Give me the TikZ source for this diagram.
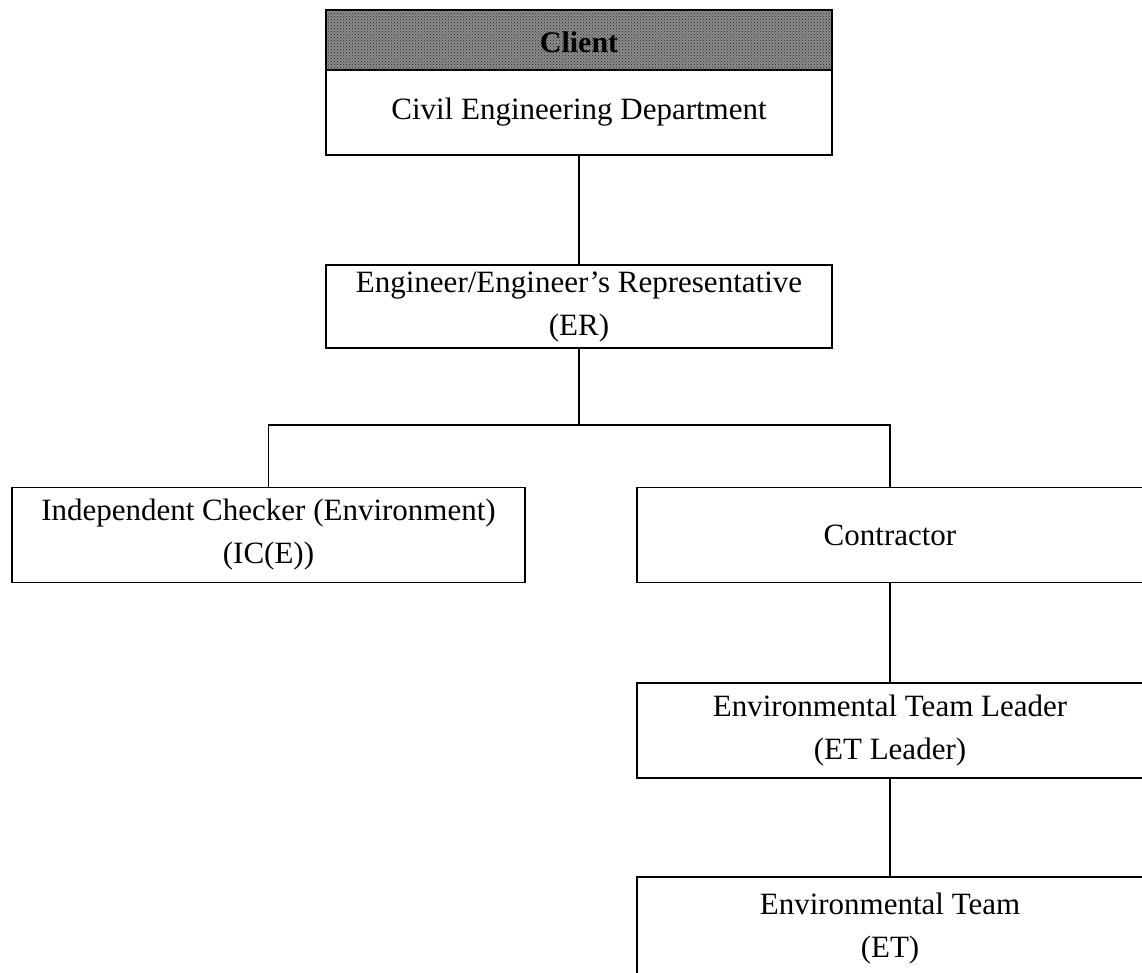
\documentclass[tikz,border=0pt]{standalone}
\usepackage{fontspec}
\setmainfont{Liberation Serif}
\usetikzlibrary{patterns}
\begin{document}
\begin{tikzpicture}[x=1pt,y=-1pt,
  box/.style={draw=black, line width=1.6pt, rectangle, inner sep=0pt, minimum width=506pt, minimum height=95pt, align=center, font=\fontsize{31}{43}\selectfont, fill=white},
  hdr/.style={draw=black, line width=1.6pt, rectangle, inner sep=0pt, minimum width=506pt, minimum height=60pt, fill=black!45, postaction={pattern=crosshatch dots, pattern color=black!85}},
  link/.style={draw=black, line width=1.8pt}]
\useasboundingbox (0,0) rectangle (1142,972);
\fill[white] (0,0) rectangle (1142,972);
% nodes
\node[box, minimum height=85pt] (ced) at (579,112.5) {Civil Engineering Department};
\node[hdr] (client) at (579,40) {};
\node[font=\fontsize{30}{36}\selectfont\bfseries, inner sep=0pt] (clientlbl) at (579,42) {Client};
\node[box, minimum height=83pt] (er) at (579,306.5) {Engineer/Engineer's Representative\\(ER)};
\node[box, minimum width=513pt] (ic) at (268.5,535) {Independent Checker (Environment)\\(IC(E))};
\node[box] (con) at (890,535) {Contractor};
\node[box] (etl) at (890,730.5) {Environmental Team Leader\\(ET Leader)};
\node[box, minimum height=104pt] (et) at (890,929) {Environmental Team\\(ET)};
% connectors
\coordinate (j) at (579,425);
\draw[link] (ced.south) -- (er.north);
\draw[link] (er.south) -- (j);
\draw[link] (ic.north) |- (j) -| (con.north);
\draw[link] (con.south) -- (etl.north);
\draw[link] (etl.south) -- (et.north);
\end{tikzpicture}
\end{document}
